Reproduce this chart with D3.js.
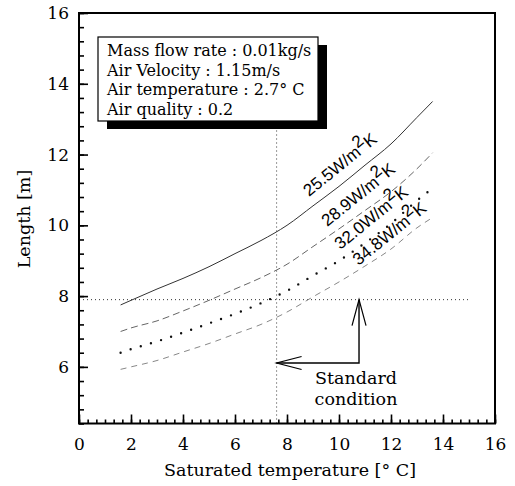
<!DOCTYPE html>
<html>
    <head>
        <title>Length vs saturated temperature</title>
        <script src="https://d3js.org/d3.v7.min.js"></script>
        <style>
            body { margin: 0; background: #fff; }
            svg { display: block; }
        </style>
    </head>
    <body>
        <script>
            // saturated temperature [C] at which the curves were sampled
            const satTemp = [1.6, 2, 3, 4, 5, 6, 7, 8, 9, 10, 11, 12, 13, 13.6]

            // length [m] for each heat transfer coefficient
            const len255 = [7.75, 7.88, 8.2, 8.5, 8.83, 9.2, 9.57, 10.0, 10.55, 11.1, 11.7, 12.3, 13.05, 13.5]
            const len289 = [7.0, 7.1, 7.3, 7.58, 7.88, 8.2, 8.52, 8.9, 9.4, 9.9, 10.42, 10.95, 11.6, 12.05]
            const len320 = [6.4, 6.5, 6.72, 6.97, 7.23, 7.5, 7.8, 8.15, 8.58, 9.0, 9.5, 10.05, 10.7, 11.05]
            const len348 = [5.93, 6.0, 6.18, 6.42, 6.66, 6.93, 7.2, 7.55, 7.98, 8.4, 8.85, 9.33, 9.93, 10.22]

            const coefLabels = ['25.5W/m', '28.9W/m', '32.0W/m', '34.8W/m']
            // where each label starts, in data units
            const labelX = [8.85, 9.55, 10.05, 10.75]
            const labelY = [10.8, 9.95, 9.3, 8.85]

            const xTicks = [0, 2, 4, 6, 8, 10, 12, 14, 16]
            const yTicks = [6, 8, 10, 12, 14, 16]

            const infoLines = [
                'Mass flow rate : 0.01kg/s',
                'Air Velocity : 1.15m/s',
                'Air temperature : 2.7\u00b0 C',
                'Air quality : 0.2'
            ]

            // standard condition
            const stdTemp = 7.6
            const stdLen = 7.9
            const refLineEnd = 15
            const arrowCorner = { x: 10.77, y: 6.11 }

            const serif = "'DejaVu Serif', 'Liberation Serif', serif"
            const sans = "'Liberation Sans', Arial, sans-serif"

            const styles = [
                { color: '#333', width: 1, dash: null },
                { color: '#666', width: 1, dash: '7 4' },
                { color: '#111', width: 2.4, dash: '0 10.6' },
                { color: '#888', width: 1, dash: '6 5' }
            ]

            const svg = d3.select('body').append('svg')
            svg.attr('width', 515)
            svg.attr('height', 486)

            const x = d3.scaleLinear().domain([0, 16]).range([79, 495])
            const y = d3.scaleLinear().domain([4.4, 16]).range([423.5, 13])

            // reference lines
            svg.append('line')
                .attr('x1', x(stdTemp)).attr('x2', x(stdTemp))
                .attr('y1', y(4.4)).attr('y2', 130)
                .attr('stroke', '#333').attr('stroke-width', 1)
                .attr('stroke-dasharray', '1 3')
            svg.append('line')
                .attr('x1', x(0)).attr('x2', x(refLineEnd))
                .attr('y1', y(stdLen)).attr('y2', y(stdLen))
                .attr('stroke', '#333').attr('stroke-width', 1)
                .attr('stroke-dasharray', '1 3')

            // curves
            const line = d3.line()
                .x((d, i) => x(satTemp[i]))
                .y(d => y(d))
                .curve(d3.curveMonotoneX)

            const allSeries = [len255, len289, len320, len348]
            allSeries.forEach((s, i) => {
                const st = styles[i]
                const p = svg.append('path')
                    .attr('d', line(s))
                    .attr('fill', 'none')
                    .attr('stroke', st.color)
                    .attr('stroke-width', st.width)
                if (st.dash) p.attr('stroke-dasharray', st.dash)
                if (i === 2) p.attr('stroke-linecap', 'round')
            })

            // curve labels
            coefLabels.forEach((lab, i) => {
                const t = svg.append('text')
                    .attr('transform', `translate(${x(labelX[i])}, ${y(labelY[i])}) rotate(-39)`)
                    .attr('font-family', sans)
                    .attr('font-size', 17)
                    .attr('fill', '#000')
                t.append('tspan').text(lab)
                t.append('tspan').attr('dy', -7).text('2')
                t.append('tspan').attr('dy', 7).text('K')
            })

            // axes with inward ticks
            svg.append('g')
                .attr('transform', `translate(0, ${y(4.4)})`)
                .call(d3.axisBottom(x).tickValues(xTicks).tickSize(-9).tickPadding(14))
            svg.append('g')
                .attr('transform', `translate(0, ${y(4.4)})`)
                .call(d3.axisBottom(x).tickValues(d3.range(0, 16.01, 1 / 3)).tickSize(-4).tickFormat(''))
            svg.append('g')
                .attr('transform', `translate(${x(0)}, 0)`)
                .call(d3.axisLeft(y).tickValues(yTicks).tickSize(-9).tickPadding(10))
            svg.append('g')
                .attr('transform', `translate(${x(0)}, 0)`)
                .call(d3.axisLeft(y).tickValues(d3.range(4.4, 16.01, 0.4)).tickSize(-5).tickFormat(''))

            svg.selectAll('.domain').remove()
            svg.selectAll('.tick line').attr('stroke', '#000').attr('stroke-width', 1.6)
            svg.selectAll('.tick text')
                .attr('font-family', serif)
                .attr('font-size', 17)
                .attr('fill', '#000')

            // frame
            svg.append('rect')
                .attr('x', x(0)).attr('y', y(16))
                .attr('width', x(16) - x(0)).attr('height', y(4.4) - y(16))
                .attr('fill', 'none').attr('stroke', '#000').attr('stroke-width', 2)

            // info box with shadow
            const box = { x: 98, y: 37, w: 220, h: 84 }
            svg.append('rect')
                .attr('x', box.x + 9).attr('y', box.y + 8)
                .attr('width', box.w).attr('height', box.h)
                .attr('fill', '#000')
            svg.append('rect')
                .attr('x', box.x).attr('y', box.y)
                .attr('width', box.w).attr('height', box.h)
                .attr('fill', '#fff').attr('stroke', '#000').attr('stroke-width', 1.2)
            svg.selectAll('.info')
                .data(infoLines).enter()
                .append('text')
                    .attr('class', 'info')
                    .attr('font-family', serif)
                    .attr('x', box.x + 9)
                    .attr('y', (d, i) => box.y + 19 + i * 19.5)
                    .attr('font-size', 16)
                    .text(d => d)

            // arrows for standard condition
            const ax = x(arrowCorner.x)
            const ay = y(arrowCorner.y)
            svg.append('path')
                .attr('d', `M${x(stdTemp)},${ay} L${ax},${ay} L${ax},${y(stdLen)}`)
                .attr('fill', 'none').attr('stroke', '#000').attr('stroke-width', 1.4)
            const tipL = [x(stdTemp), ay]
            const tipU = [ax, y(stdLen)]
            svg.append('path')
                .attr('d', `M${tipL[0] + 25},${tipL[1] - 6.5} L${tipL[0]},${tipL[1]} L${tipL[0] + 25},${tipL[1] + 6.5}`)
                .attr('fill', 'none').attr('stroke', '#000').attr('stroke-width', 1.2)
            svg.append('path')
                .attr('d', `M${tipU[0] - 7},${tipU[1] + 26} L${tipU[0]},${tipU[1]} L${tipU[0] + 7},${tipU[1] + 26}`)
                .attr('fill', 'none').attr('stroke', '#000').attr('stroke-width', 1.2)

            const notes = [['Standard', 384], ['condition', 405]]
            notes.forEach(([txt, ty]) => {
                svg.append('text')
                    .attr('font-family', serif)
                    .attr('x', 356).attr('y', ty)
                    .attr('text-anchor', 'middle').attr('font-size', 17.5)
                    .text(txt)
            })

            // axis titles
            svg.append('text')
                .attr('font-family', serif)
                .attr('x', 290).attr('y', 476)
                .attr('text-anchor', 'middle').attr('font-size', 17.5)
                .text('Saturated temperature [\u00b0 C]')
            svg.append('text')
                .attr('font-family', serif)
                .attr('transform', 'translate(30, 219) rotate(-90)')
                .attr('text-anchor', 'middle').attr('font-size', 17.5)
                .text('Length [m]')
        </script>
    </body>
</html>
